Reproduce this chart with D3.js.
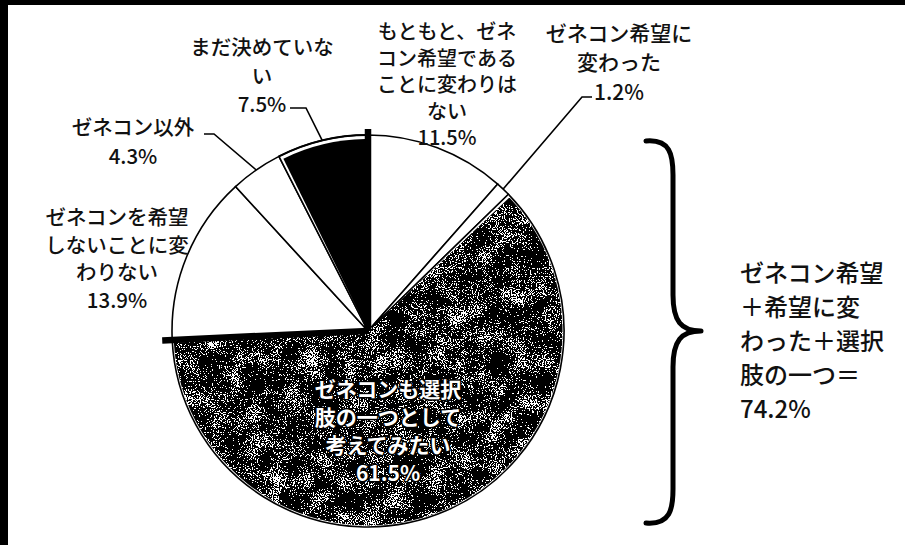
<!DOCTYPE html>
<html>
<head>
<meta charset="utf-8">
<script src="https://cdn.jsdelivr.net/npm/d3@7"></script>
<style>
  body { margin: 0; background: #fff; }
  text { font-family: "Noto Sans CJK JP", "Noto Sans", sans-serif; }
</style>
</head>
<body>
<script>
// data
var categories = ["もともと、ゼネコン希望であることに変わりはない", "ゼネコン希望に変わった",
  "ゼネコンも選択肢の一つとして考えてみたい", "ゼネコンを希望しないことに変わりない",
  "ゼネコン以外", "まだ決めていない"];
var values = [11.5, 1.2, 61.5, 13.9, 4.3, 7.5];
var labelLines = [
  ["もともと、ゼネ", "コン希望である", "ことに変わりは", "ない"],
  ["ゼネコン希望に", "変わった"],
  ["ゼネコンも選択", "肢の一つとして", "考えてみたい"],
  ["ゼネコンを希望", "しないことに変", "わりない"],
  ["ゼネコン以外"],
  ["まだ決めていな", "い"]
];
var totalLines = ["ゼネコン希望", "＋希望に変", "わった＋選択", "肢の一つ＝"];
var totalIdx = [0, 1, 2];

// styles
var fills = ["#fff", "#fff", "url(#grainFill)", "#fff", "#fff", "#000"];

var W = 905, H = 545;
var cx = 368, cy = 331, R = 196;

// label layout (x centre, first line y, line step)
var labelPos = [
  {x: 447, y: 32, step: 26.5, size: 20},
  {x: 619, y: 33, step: 29.5, size: 21},
  {x: 388, y: 389, step: 28, size: 21, inner: true},
  {x: 117, y: 218, step: 27.5, size: 20.5},
  {x: 133, y: 128, step: 29, size: 20.5},
  {x: 262, y: 48, step: 28.5, size: 20.5}
];
// leader start points for the small slices
var leaders = {1: [[592, 97], [582, 97]], 4: [[204, 134], [214, 134]], 5: [[290, 108], [306, 108]]};

var svg = d3.select("body").append("svg").attr("width", W).attr("height", H);

var defs = svg.append("defs");
var f = defs.append("filter").attr("id", "grain")
  .attr("x", 0).attr("y", 0).attr("width", 1).attr("height", 1)
  .attr("color-interpolation-filters", "sRGB");
f.append("feTurbulence").attr("type", "fractalNoise").attr("baseFrequency", 0.85)
  .attr("numOctaves", 2).attr("seed", 4).attr("result", "fine");
f.append("feColorMatrix").attr("in", "fine").attr("type", "matrix")
  .attr("values", "1 0 0 0 0  1 0 0 0 0  1 0 0 0 0  0 0 0 0 1").attr("result", "fineG");
f.append("feTurbulence").attr("type", "fractalNoise").attr("baseFrequency", 0.05)
  .attr("numOctaves", 2).attr("seed", 11).attr("result", "coarse");
f.append("feColorMatrix").attr("in", "coarse").attr("type", "matrix")
  .attr("values", "1 0 0 0 0  1 0 0 0 0  1 0 0 0 0  0 0 0 0 1").attr("result", "coarseG");
f.append("feComposite").attr("in", "fineG").attr("in2", "coarseG").attr("operator", "arithmetic")
  .attr("k1", 0).attr("k2", 0.85).attr("k3", 0.4).attr("k4", -0.12).attr("result", "mix");
var ct = f.append("feComponentTransfer").attr("in", "mix");
var table = "0 0 0 0 0 0 0 0 0 0 0 0 0 0 0 1 1 1 1 1 1 1 1 1 1";
["feFuncR", "feFuncG", "feFuncB"].forEach(function(n) {
  ct.append(n).attr("type", "discrete").attr("tableValues", table);
});
var pat = defs.append("pattern").attr("id", "grainFill").attr("patternUnits", "userSpaceOnUse")
  .attr("width", W).attr("height", H);
pat.append("rect").attr("width", W).attr("height", H).attr("fill", "#777").attr("filter", "url(#grain)");

// frame of the scan
svg.append("rect").attr("x", 0).attr("y", 0).attr("width", W).attr("height", 5).attr("fill", "#000");
svg.append("rect").attr("x", 0).attr("y", 0).attr("width", 8).attr("height", H).attr("fill", "#000");

var pie = d3.pie().sort(null).value(function(d) { return d; });
var arcs = pie(values);
var arc = d3.arc().innerRadius(0).outerRadius(R);

var g = svg.append("g").attr("transform", "translate(" + cx + "," + cy + ")");

g.selectAll("path.base").data(arcs).enter().append("path")
  .attr("class", "base")
  .attr("d", arc)
  .attr("fill", "#fff")
  .attr("stroke", "#000")
  .attr("stroke-width", 1.6);

// inset fills (grey texture and black slice keep a white rim)
var insetGrey = d3.arc().innerRadius(0).outerRadius(R - 1.5).padAngle(0.03).padRadius(R);
var insetBlack = d3.arc().innerRadius(0).outerRadius(R - 4).padAngle(0.03).padRadius(R);
g.selectAll("path.fill").data(arcs.filter(function(d, i) { return fills[i] !== "#fff"; }))
  .enter().append("path")
  .attr("class", "fill")
  .attr("d", function(d) { return d.index === 5 ? insetBlack(d) : insetGrey(d); })
  .attr("fill", function(d) { return fills[d.index]; });

// thicker rim on the black slice
g.append("path")
  .attr("d", d3.arc().innerRadius(R - 1).outerRadius(R + 1)(arcs[5]))
  .attr("fill", "#000");

// heavy boundary lines
function pt(a, r) { return [Math.sin(a) * r, -Math.cos(a) * r]; }
[arcs[0].startAngle, arcs[2].endAngle].forEach(function(a, k) {
  var p = pt(a, R + (k === 0 ? 6 : 10));
  g.append("line").attr("x1", 0).attr("y1", 0).attr("x2", p[0]).attr("y2", p[1])
    .attr("stroke", "#000").attr("stroke-width", 6.5);
});

// leader lines
Object.keys(leaders).forEach(function(k) {
  var d = arcs[+k];
  var m = pt((d.startAngle + d.endAngle) / 2, R);
  var pts = leaders[k].concat([[m[0] + cx, m[1] + cy]]);
  svg.append("path").attr("d", d3.line()(pts))
    .attr("fill", "none").attr("stroke", "#000").attr("stroke-width", 1.6);
});

// labels
arcs.forEach(function(d, i) {
  var lp = labelPos[i];
  var lines = labelLines[i].concat([values[i].toFixed(1) + "%"]);
  var t = svg.append("text")
    .attr("text-anchor", "middle")
    .attr("font-size", lp.size)
    .attr("font-weight", 500)
    .attr("fill", lp.inner ? "#fff" : "#111");
  if (lp.inner) {
    t.attr("font-weight", "bold").attr("stroke", "#000").attr("stroke-width", 3)
      .attr("paint-order", "stroke").attr("stroke-linejoin", "round");
  }
  lines.forEach(function(s, j) {
    t.append("tspan").attr("x", lp.x).attr("y", lp.y + j * lp.step).attr("dy", "0.36em").text(s);
  });
});

// brace spanning the pie height
var bx = 646, bw = 27, tip = 28;
var bTop = cy - R + 6, bBot = cy + R - 4;
var bp = d3.path();
bp.moveTo(bx, bTop);
bp.bezierCurveTo(bx + bw * 0.9, bTop - 2, bx + bw, bTop + 14, bx + bw, bTop + 34);
bp.lineTo(bx + bw, cy - 36);
bp.bezierCurveTo(bx + bw, cy - 10, bx + bw + 8, cy, bx + bw + tip, cy);
bp.bezierCurveTo(bx + bw + 8, cy, bx + bw, cy + 10, bx + bw, cy + 36);
bp.lineTo(bx + bw, bBot - 34);
bp.bezierCurveTo(bx + bw, bBot - 14, bx + bw * 0.9, bBot + 2, bx, bBot);
svg.append("path").attr("d", bp.toString())
  .attr("fill", "none").attr("stroke", "#000").attr("stroke-width", 5)
  .attr("stroke-linecap", "round").attr("stroke-linejoin", "round");

// total label
var total = d3.sum(totalIdx, function(i) { return values[i]; });
var tt = svg.append("text").attr("font-size", 24).attr("font-weight", 500).attr("fill", "#111");
totalLines.concat([total.toFixed(1) + "%"]).forEach(function(s, j) {
  tt.append("tspan").attr("x", 740).attr("y", 273 + j * 34).attr("dy", "0.36em").text(s);
});
</script>
</body>
</html>
